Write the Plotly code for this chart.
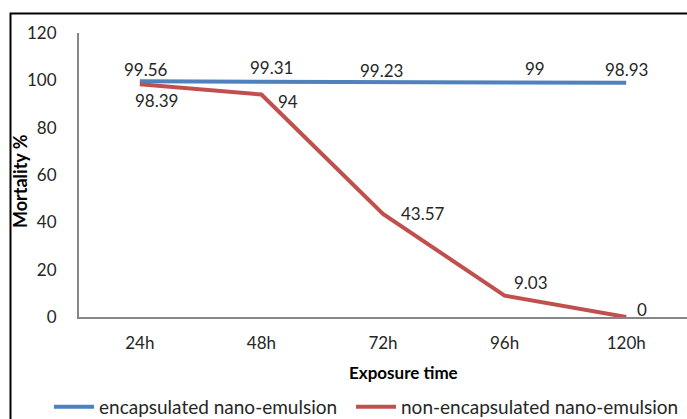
import plotly.graph_objects as go

categories = ["24h", "48h", "72h", "96h", "120h"]
encapsulated = [99.56, 99.31, 99.23, 99, 98.93]
non_encapsulated = [98.39, 94, 43.57, 9.03, 0]
y_ticks = [0, 20, 40, 60, 80, 100, 120]

BLUE = "#4F81BD"
RED = "#C0504D"
FONT = "Lato"
TXT = "#262626"

W, H = 687, 419
L, R, T, B = 79, 0, 33, 102
pw, ph = W - L - R, H - T - B

def px_x(p):
    return (p - L) / pw

def px_y(p):
    return (H - B - p) / ph

fig = go.Figure()
fig.add_trace(go.Scatter(x=categories, y=encapsulated, mode="lines",
                         name="encapsulated nano-emulsion", legend="legend",
                         line=dict(color=BLUE, width=4)))
fig.add_trace(go.Scatter(x=categories, y=non_encapsulated, mode="lines",
                         name="non-encapsulated nano-emulsion", legend="legend2",
                         line=dict(color=RED, width=4)))

# data label offsets (pixels) relative to each point
enc_shift = [(6, 12), (10, 14), (-2, 12), (30, 14), (0, 13)]
non_shift = [(17, -16), (27, -7), (40, 0), (26, 13), (16, 8)]
for cat, v, (dx, dy) in zip(categories, encapsulated, enc_shift):
    fig.add_annotation(x=cat, y=v, text=f"{v:g}", showarrow=False,
                       xshift=dx, yshift=dy, xanchor="center", yanchor="middle",
                       font=dict(family=FONT, size=17, color=TXT))
for cat, v, (dx, dy) in zip(categories, non_encapsulated, non_shift):
    fig.add_annotation(x=cat, y=v, text=f"{v:g}", showarrow=False,
                       xshift=dx, yshift=dy, xanchor="center", yanchor="middle",
                       font=dict(family=FONT, size=17, color=TXT))

fig.add_annotation(xref="paper", yref="paper", x=px_x(403), y=px_y(372),
                   xanchor="center", yanchor="middle",
                   text="<b>Exposure time</b>", showarrow=False,
                   font=dict(family=FONT, size=17, color="#000"))
fig.add_annotation(xref="paper", yref="paper", x=px_x(20), y=px_y(181),
                   xanchor="center", yanchor="middle",
                   text="<b>Mortality %</b>", showarrow=False, textangle=-90,
                   font=dict(family=FONT, size=18, color="#000"))

# outer frame
fig.add_shape(type="rect", xref="paper", yref="paper",
              x0=px_x(10.5), x1=px_x(700), y0=px_y(430), y1=px_y(13.5),
              line=dict(color="#000", width=2), fillcolor="rgba(0,0,0,0)")

legend_common = dict(orientation="h", xanchor="left", yanchor="middle",
                     y=px_y(407), font=dict(family=FONT, size=19, color=TXT),
                     bgcolor="rgba(0,0,0,0)", itemwidth=40)

fig.update_layout(
    width=W, height=H,
    margin=dict(l=L, r=R, t=T, b=B, autoexpand=False),
    paper_bgcolor="white", plot_bgcolor="white",
    font=dict(family=FONT, size=17, color=TXT),
    showlegend=True,
    legend=dict(x=px_x(49), **legend_common),
    legend2=dict(x=px_x(351), **legend_common),
    xaxis=dict(range=[-0.5, 4.5], showgrid=False, showline=True,
               linecolor="#868686", linewidth=2, ticks="",
               ticklabelstandoff=10,
               tickfont=dict(family=FONT, size=17, color=TXT),
               zeroline=False),
    yaxis=dict(range=[0, 120], tickvals=y_ticks, showgrid=False,
               showline=True, linecolor="#868686", linewidth=2,
               ticks="", ticklabelstandoff=17,
               tickfont=dict(family=FONT, size=17, color=TXT),
               zeroline=False),
)

fig.write_html("out.html")
